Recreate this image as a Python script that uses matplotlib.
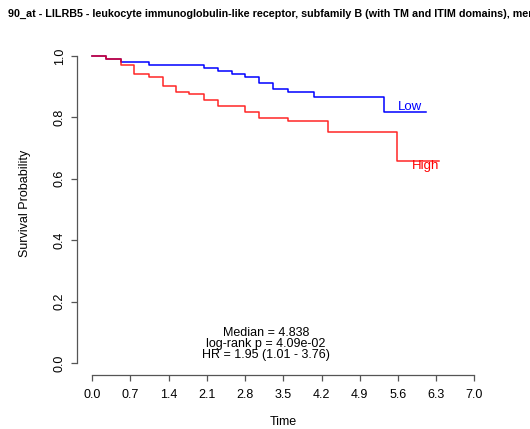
import numpy as np
import matplotlib
matplotlib.use("Agg")
import matplotlib.pyplot as plt

plt.rcParams['font.family'] = ['Liberation Sans', 'DejaVu Sans']

# Kaplan-Meier steps
high_t = [0, 0.26, 0.52, 0.76, 1.03, 1.29, 1.53, 1.78, 2.05, 2.30, 2.80, 3.06, 3.58, 4.32, 5.59, 6.36]
high_s = [1.0, 0.990, 0.971, 0.940, 0.933, 0.903, 0.884, 0.875, 0.857, 0.838, 0.819, 0.797, 0.788, 0.751, 0.658, 0.658]
low_t = [0, 0.26, 0.52, 1.03, 2.05, 2.30, 2.56, 2.80, 3.06, 3.31, 3.58, 4.06, 5.34, 6.11]
low_s = [1.0, 0.990, 0.981, 0.971, 0.960, 0.951, 0.941, 0.931, 0.911, 0.892, 0.882, 0.866, 0.819, 0.819]

xticks = [0.0, 0.7, 1.4, 2.1, 2.8, 3.5, 4.2, 4.9, 5.6, 6.3, 7.0]
yticks = [0.0, 0.2, 0.4, 0.6, 0.8, 1.0]

title = "90_at - LILRB5 - leukocyte immunoglobulin-like receptor, subfamily B (with TM and ITIM domains), member 5"
stats = ["Median = 4.838", "log-rank p = 4.09e-02", "HR = 1.95 (1.01 - 3.76)"]

W, H = 530, 429
fig = plt.figure(figsize=(W / 100, H / 100), dpi=100)
ax = fig.add_axes([77 / W, 1 - 375.3 / H, (489.7 - 77) / W, (375.3 - 43.7) / H])

ax.step(low_t, low_s, where='post', color='blue', lw=1.1)
ax.step(high_t, high_s, where='post', color='red', lw=1.1, alpha=0.85)

ax.text(5.59, 0.834, "Low", color='blue', fontsize=9.5, va='center', ha='left')
ax.text(5.86, 0.642, "High", color='red', fontsize=9.5, va='center', ha='left')

ax.set_xlim(-0.28, 7.28)
ax.set_ylim(-0.04, 1.04)
ax.set_xticks(xticks)
ax.set_xticklabels(["%.1f" % v for v in xticks])
ax.set_yticks(yticks)
ax.set_yticklabels(["%.1f" % v for v in yticks], rotation=90, va='center')

for side in ['top', 'right']:
    ax.spines[side].set_visible(False)
ax.spines['bottom'].set_bounds(0, 7)
ax.spines['left'].set_bounds(0, 1)
for side in ['bottom', 'left']:
    ax.spines[side].set_color('#555555')
    ax.spines[side].set_linewidth(0.9)
ax.tick_params(axis='both', direction='out', length=4, width=0.9, color='#555555',
               labelsize=9, pad=6)
ax.tick_params(axis='y', pad=4)

# stats block
for i, line in enumerate(stats):
    fig.text(266 / W, 1 - (333 + 11 * i) / H, line, fontsize=9, ha='center', va='center')

fig.text(8 / W, 1 - 14 / H, title, fontsize=7.75, fontweight='bold', ha='left', va='center')
fig.text(25 / W, 1 - 203 / H, "Survival Probability", fontsize=9, rotation=90, ha='center', va='center')
fig.text(283 / W, 1 - 422 / H, "Time", fontsize=9, ha='center', va='center')

fig.savefig("out.png", dpi=100)
